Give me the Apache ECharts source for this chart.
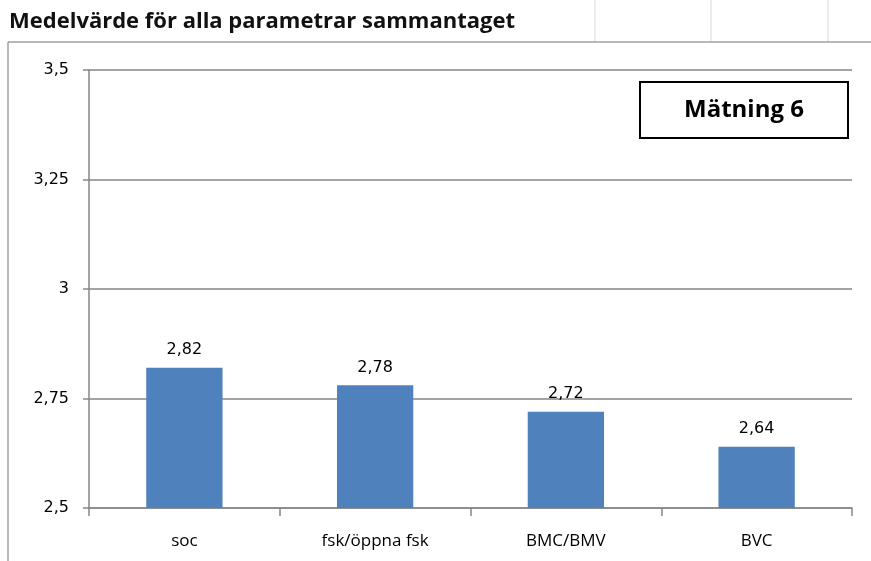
<!DOCTYPE html>
<html>
<head>
<meta charset="utf-8">
<script src="https://cdn.jsdelivr.net/npm/echarts@6/dist/echarts.min.js"></script>
<style>
  html, body { margin: 0; padding: 0; background: #fff; }
  #main { width: 871px; height: 561px; }
</style>
</head>
<body>
<div id="main"></div>
<script>
var categories = ['soc', 'fsk/öppna fsk', 'BMC/BMV', 'BVC'];
var values = [2.82, 2.78, 2.72, 2.64];
var yMin = 2.5, yMax = 3.5, yStep = 0.25;

function comma(v) {
  return String(v).replace('.', ',');
}

var chart = echarts.init(document.getElementById('main'));
var option = {
  backgroundColor: '#fff',
  animation: false,
  title: [{
    text: 'Medelvärde för alla parametrar sammantaget',
    left: 9,
    top: 11,
    padding: 0,
    textStyle: { fontFamily: 'Open Sans', fontWeight: 'bold', fontSize: 22, color: '#111' }
  }, {
    text: 'Mätning 6',
    left: 640,
    top: 82,
    padding: [16, 44, 16, 44],
    borderColor: '#000',
    borderWidth: 2,
    textStyle: { fontFamily: 'Open Sans', fontWeight: 'bold', fontSize: 24, color: '#000' }
  }],
  // spreadsheet cell lines behind the chart
  graphic: [
    { type: 'line', shape: { x1: 595, y1: 0, x2: 595, y2: 42 }, style: { stroke: '#d9d9d9', lineWidth: 1 } },
    { type: 'line', shape: { x1: 711, y1: 0, x2: 711, y2: 42 }, style: { stroke: '#d9d9d9', lineWidth: 1 } },
    { type: 'line', shape: { x1: 828, y1: 0, x2: 828, y2: 42 }, style: { stroke: '#d9d9d9', lineWidth: 1 } },
    { type: 'line', shape: { x1: 8, y1: 42, x2: 871, y2: 42 }, style: { stroke: '#a0a0a0', lineWidth: 1.5 } },
    { type: 'line', shape: { x1: 8, y1: 42, x2: 8, y2: 561 }, style: { stroke: '#a0a0a0', lineWidth: 1.5 } }
  ],
  grid: { left: 89, right: 19, top: 70, bottom: 53 },
  xAxis: {
    type: 'category',
    data: categories,
    axisLine: { lineStyle: { color: '#868686', width: 1.5 } },
    axisTick: { show: true, length: 8, lineStyle: { color: '#868686', width: 1.5 } },
    axisLabel: { margin: 25, fontFamily: 'Open Sans', fontSize: 17, color: '#000' }
  },
  yAxis: {
    type: 'value',
    min: yMin,
    max: yMax,
    interval: yStep,
    axisLine: { show: true, lineStyle: { color: '#868686', width: 1.5 } },
    axisTick: { show: true, length: 6, lineStyle: { color: '#868686', width: 1.5 } },
    splitLine: { lineStyle: { color: '#868686', width: 1.5 } },
    axisLabel: {
      margin: 20,
      fontFamily: 'DejaVu Sans',
      fontSize: 16,
      color: '#000',
      formatter: function (v) { return comma(v); }
    }
  },
  series: [{
    type: 'bar',
    data: values,
    barWidth: '40%',
    itemStyle: { color: '#4F81BD' },
    label: {
      show: true,
      position: 'top',
      distance: 10,
      fontFamily: 'DejaVu Sans',
      fontSize: 16,
      color: '#000',
      formatter: function (p) { return comma(p.value); }
    }
  }]
};
chart.setOption(option);
window.addEventListener('resize', chart.resize);
</script>
</body>
</html>
